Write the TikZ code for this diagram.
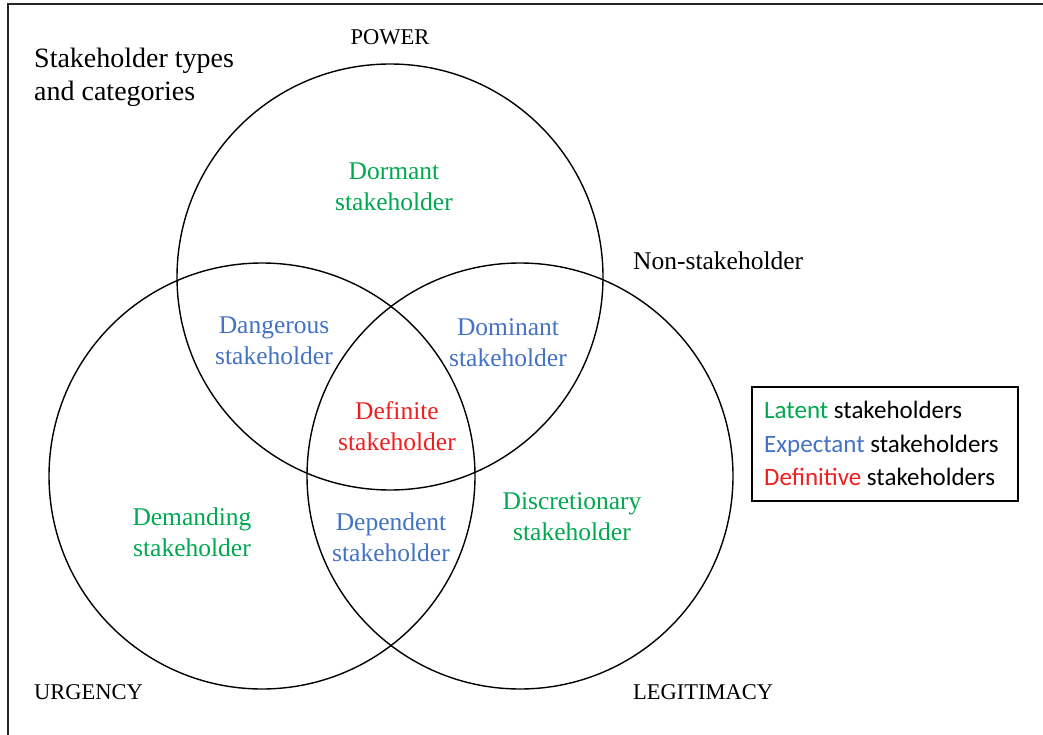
\documentclass[tikz,border=0pt]{standalone}
\usepackage{fontspec}
\setmainfont{Liberation Serif}
\newfontfamily\legendfont{Carlito}
\begin{document}
\begin{tikzpicture}[x=1pt,y=-1pt,
  setcircle/.style={circle, draw=black, line width=1.4pt, minimum size=426pt, inner sep=0pt},
  region/.style={align=center, font=\fontsize{25.5}{31}\selectfont, inner sep=0pt},
  corner/.style={anchor=west, font=\fontsize{22.5}{26}\selectfont, inner sep=0pt},
  legendline/.style={anchor=base west, font=\legendfont\fontsize{25}{30}\selectfont, inner sep=0pt},
  latent/.style={text=latentgreen},
  expectant/.style={text=expectantblue},
  definitive/.style={text=definitivered}]
\definecolor{latentgreen}{RGB}{0,168,80}
\definecolor{expectantblue}{RGB}{68,114,196}
\definecolor{definitivered}{RGB}{240,30,30}
\useasboundingbox (0,0) rectangle (1043,735);
\fill[white] (0,0) rectangle (1043,735);

% outer frame (top and left edges)
\draw[line width=1.8pt, black!85] (8,740) -- (8,4) -- (1050,4);

% title
\node[anchor=north west, align=left, inner sep=0pt, font=\fontsize{28}{33}\selectfont] (title) at (34,48) {Stakeholder types\\and categories};

% the three attribute circles
\node[setcircle] (power) at (390,277) {};
\node[setcircle] (urgency) at (262,476) {};
\node[setcircle] (legitimacy) at (520,476) {};

% attribute names
\node[font=\fontsize{22.5}{26}\selectfont, inner sep=0pt] (powerlbl) at (390,37) {POWER};
\node[corner] (urgencylbl) at (34,692) {URGENCY};
\node[corner] (legitimacylbl) at (633,692) {LEGITIMACY};
\node[anchor=west, font=\fontsize{25.5}{31}\selectfont, inner sep=0pt] (nonstake) at (633,261) {Non-stakeholder};

% stakeholder classes
\node[region, latent] (dormant) at (394,187) {Dormant\\stakeholder};
\node[region, expectant] (dangerous) at (274,341) {Dangerous\\stakeholder};
\node[region, expectant] (dominant) at (508,343) {Dominant\\stakeholder};
\node[region, definitive] (definite) at (397,426) {Definite\\stakeholder};
\node[region, latent] (demanding) at (192,532) {Demanding\\stakeholder};
\node[region, expectant] (dependent) at (391,537) {Dependent\\stakeholder};
\node[region, latent] (discretionary) at (572,517) {Discretionary\\stakeholder};

% legend
\draw[line width=1.1pt] (752,387) rectangle (1018,501);
\node[legendline] (leglatent) at (764,418) {\textcolor{latentgreen}{Latent} stakeholders};
\node[legendline] (legexpectant) at (764,452) {\textcolor{expectantblue}{Expectant} stakeholders};
\node[legendline] (legdefinitive) at (764,485) {\textcolor{definitivered}{Definitive} stakeholders};
\end{tikzpicture}
\end{document}
